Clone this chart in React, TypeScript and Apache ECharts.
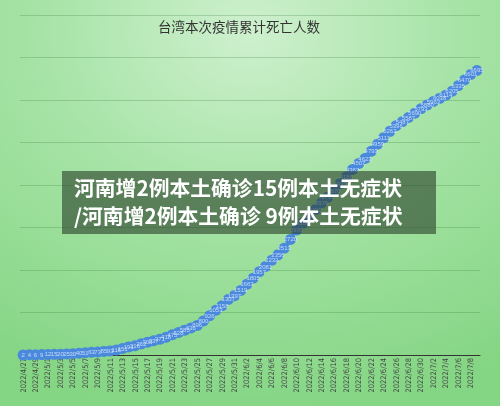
import React, { useEffect, useRef } from "react";
import * as echarts from "echarts";

const TITLE = "台湾本次疫情累计死亡人数";
const BANNER_LINE_1 = "河南增2例本土确诊15例本土无症状";
const BANNER_LINE_2 = "/河南增2例本土确诊 9例本土无症状";

const startDate = [2022, 4, 27];
const dayCount = 74;

const dates: string[] = (() => {
  const out: string[] = [];
  const d = new Date(startDate[0], startDate[1] - 1, startDate[2]);
  for (let i = 0; i < dayCount; i++) {
    out.push(`${d.getFullYear()}/${d.getMonth() + 1}/${d.getDate()}`);
    d.setDate(d.getDate() + 1);
  }
  return out;
})();

const deaths: number[] = [
  2, 4, 6, 9, 12, 15, 20, 25, 30, 40,
  51, 63, 73, 85, 93, 116, 151, 191, 216, 262,
  300, 337, 371, 418, 475, 528, 585, 636, 696, 800,
  926, 1053, 1158, 1307, 1397, 1519, 1663, 1805, 1957, 2081,
  2232, 2356, 2513, 2720, 2939, 3100, 3262, 3420, 3576, 3712,
  3870, 4030, 4188, 4363, 4507, 4623, 4793, 4959, 5111, 5262,
  5396, 5487, 5587, 5690, 5793, 5880, 5963, 6038, 6114, 6205,
  6335, 6470, 6601, 6695,
];

const yMin = 0;
const yMax = 8000;
const yInterval = 1000;

export default function App() {
  const ref = useRef<HTMLDivElement>(null);
  useEffect(() => {
    if (!ref.current) return;
    const chart = echarts.init(ref.current, undefined, { renderer: "svg" });
    chart.setOption({
      animation: false,
      backgroundColor: {
        type: "radial",
        x: 0.5,
        y: 0.08,
        r: 0.95,
        colorStops: [
          { offset: 0, color: "#cef0ce" },
          { offset: 0.45, color: "#a6e3a6" },
          { offset: 1, color: "#84d584" },
        ],
      },
      title: {
        text: TITLE,
        left: 153,
        top: 14,
        textStyle: {
          fontFamily: "Noto Sans CJK SC",
          fontSize: 13.5,
          fontWeight: "normal",
          color: "#333",
        },
      },
      grid: { left: 20, right: 20, top: 15, bottom: 51 },
      xAxis: {
        type: "category",
        data: dates,
        boundaryGap: true,
        axisLine: { lineStyle: { color: "#333", width: 1 } },
        axisTick: { alignWithLabel: true, interval: 1, length: 3, lineStyle: { color: "#333" } },
        axisLabel: {
          interval: 1,
          rotate: 90,
          fontSize: 7.5,
          color: "#444",
          margin: 3,
          fontFamily: "DejaVu Sans Condensed, Liberation Sans, sans-serif",
        },
      },
      yAxis: {
        type: "value",
        min: yMin,
        max: yMax,
        interval: yInterval,
        axisLabel: { show: false },
        axisLine: { show: false },
        axisTick: { show: false },
        splitLine: { lineStyle: { color: "rgba(60,130,60,0.28)", width: 1 } },
      },
      series: [
        {
          type: "line",
          data: deaths,
          symbol: "circle",
          symbolSize: 11,
          showAllSymbol: true,
          itemStyle: { color: "#4a89dc", borderWidth: 0 },
          lineStyle: { color: "#4a89dc", width: 3 },
          label: {
            show: true,
            position: "inside",
            fontSize: 6,
            color: "rgba(225,238,255,0.8)",
            fontFamily: "Liberation Sans, sans-serif",
          },
        },
      ],
      graphic: [
        {
          type: "rect",
          shape: { x: 62, y: 171, width: 374, height: 63 },
          style: { fill: "rgba(40,62,40,0.6)" },
          z: 100,
        },
        {
          type: "text",
          x: 74,
          y: 187,
          z: 101,
          style: {
            text: BANNER_LINE_1,
            fill: "#ffffff",
            fontSize: 20.8,
            fontWeight: "bold",
            fontFamily: "Noto Sans CJK SC",
            verticalAlign: "middle",
          },
        },
        {
          type: "text",
          x: 74,
          y: 215,
          z: 101,
          style: {
            text: BANNER_LINE_2,
            fill: "#ffffff",
            fontSize: 20.8,
            fontWeight: "bold",
            fontFamily: "Noto Sans CJK SC",
            verticalAlign: "middle",
          },
        },
      ],
    });
    return () => chart.dispose();
  }, []);
  return (
    <div
      ref={ref}
      style={{ position: "fixed", left: 0, top: 0, width: 500, height: 406 }}
    />
  );
}
